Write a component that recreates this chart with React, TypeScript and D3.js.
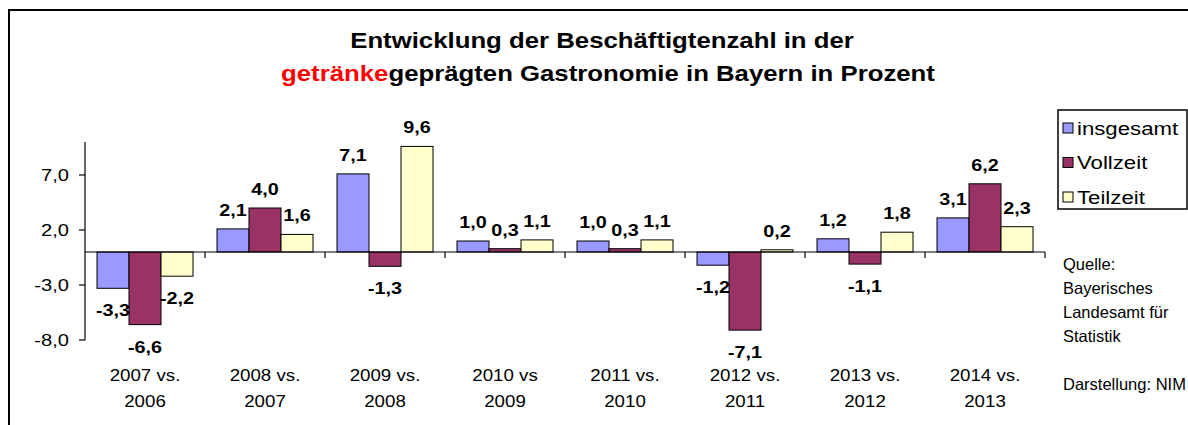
import React from 'react';
import * as d3 from 'd3';

const years1 = ['2007 vs.', '2008 vs.', '2009 vs.', '2010 vs', '2011 vs.', '2012 vs.', '2013 vs.', '2014 vs.'];
const years2 = ['2006', '2007', '2008', '2009', '2010', '2011', '2012', '2013'];
const seriesNames = ['insgesamt', 'Vollzeit', 'Teilzeit'];
const insgesamt = [-3.3, 2.1, 7.1, 1.0, 1.0, -1.2, 1.2, 3.1];
const vollzeit = [-6.6, 4.0, -1.3, 0.3, 0.3, -7.1, -1.1, 6.2];
const teilzeit = [-2.2, 1.6, 9.6, 1.1, 1.1, 0.2, 1.8, 2.3];
const yTicks = [-8, -3, 2, 7];
const sourceLines = ['Quelle:', 'Bayerisches', 'Landesamt für', 'Statistik', '', 'Darstellung: NIM'];

const colors = ['#9999FF', '#993366', '#FFFFCC'];
const FONT = 'Arial, "Liberation Sans", sans-serif';
const fmt = (v: number) => v.toFixed(1).replace('.', ',');

// stretched text, the original glyphs are wider than arial
function T(props: { x: number; y: number; sx?: number; size: number; bold?: boolean; anchor?: string; children: any; fill?: string }) {
  const { x, y, sx = 1, size, bold, anchor = 'start', children, fill = '#000' } = props;
  return (
    <text
      transform={`translate(${x},${y}) scale(${sx},1)`}
      fontFamily={FONT}
      fontSize={size}
      fontWeight={bold ? 'bold' : 'normal'}
      textAnchor={anchor}
      fill={fill}
    >
      {children}
    </text>
  );
}

export default function App() {
  const data = [insgesamt, vollzeit, teilzeit];
  const x0 = d3.scaleBand<number>().domain(d3.range(years1.length)).range([85, 1045]);
  const x1 = d3.scaleBand<number>().domain([0, 1, 2]).range([12, 108]);
  const y = d3.scaleLinear().domain([-8, 10]).range([340, 142]);
  const zero = y(0);

  return (
    <svg
      width={1188}
      height={425}
      viewBox="0 0 1188 425"
      style={{ position: 'fixed', left: 0, top: 0, background: '#fff' }}
    >
      <rect x={0} y={0} width={1188} height={425} fill="#fff" />
      <rect x={9} y={10} width={1250} height={500} fill="none" stroke="#000" strokeWidth={2} />

      {/* title */}
      <T x={602} y={48} size={23} sx={1.12} bold anchor="middle">
        Entwicklung der Beschäftigtenzahl in der
      </T>
      <text
        transform={`translate(608,81) scale(1.12,1)`}
        fontFamily={FONT}
        fontSize={23}
        fontWeight="bold"
        textAnchor="middle"
      >
        <tspan fill="#FF0000">getränke</tspan>
        <tspan fill="#000">geprägten Gastronomie in Bayern in Prozent</tspan>
      </text>

      {/* bars */}
      {data.map((vals, s) =>
        vals.map((v, i) => {
          const bx = (x0(i) as number) + (x1(s) as number);
          return (
            <rect
              key={`b${s}-${i}`}
              x={bx}
              y={Math.min(y(v), zero)}
              width={x1.bandwidth()}
              height={Math.abs(y(v) - zero)}
              fill={colors[s]}
              stroke="#000"
              strokeWidth={1}
            />
          );
        })
      )}

      {/* y axis */}
      <line x1={85} x2={85} y1={y(10)} y2={y(-8)} stroke="#000" strokeWidth={1.2} />
      {yTicks.map(t => (
        <g key={`yt${t}`}>
          <line x1={79} x2={85} y1={y(t)} y2={y(t)} stroke="#000" strokeWidth={1.2} />
          <T x={69} y={y(t) + 6} size={16.5} sx={1.22} anchor="end">
            {fmt(t)}
          </T>
        </g>
      ))}

      {/* zero axis with category ticks */}
      <line x1={85} x2={1045} y1={zero} y2={zero} stroke="#000" strokeWidth={1.2} />
      {years1.map((_, i) => (
        <line
          key={`ct${i}`}
          x1={(x0(i) as number) + x0.bandwidth()}
          x2={(x0(i) as number) + x0.bandwidth()}
          y1={zero}
          y2={zero + 6}
          stroke="#000"
          strokeWidth={1.2}
        />
      ))}

      {/* category labels */}
      {years1.map((l, i) => {
        const cx = (x0(i) as number) + x0.bandwidth() / 2;
        return (
          <g key={`cl${i}`}>
            <T x={cx} y={381} size={17} sx={1.1} anchor="middle">{l}</T>
            <T x={cx} y={407} size={17} sx={1.1} anchor="middle">{years2[i]}</T>
          </g>
        );
      })}

      {/* value labels */}
      {data.map((vals, s) =>
        vals.map((v, i) => {
          const cx = (x0(i) as number) + (x1(s) as number) + x1.bandwidth() / 2;
          const ly = v >= 0 ? y(v) - 13 : y(v) + 28;
          return (
            <T key={`l${s}-${i}`} x={cx} y={ly} size={16.5} sx={1.2} bold anchor="middle">
              {fmt(v)}
            </T>
          );
        })
      )}

      {/* legend */}
      <rect x={1058} y={110} width={129} height={99} fill="#fff" stroke="#000" strokeWidth={1.5} />
      {seriesNames.map((n, s) => (
        <g key={`lg${s}`}>
          <rect x={1063} y={123 + s * 34.5} width={10} height={10} fill={colors[s]} stroke="#000" strokeWidth={1} />
          <T x={1077} y={134.5 + s * 34.5} size={18.5} sx={1.2}>{n}</T>
        </g>
      ))}

      {/* source note */}
      {sourceLines.map((l, i) => (
        <T key={`src${i}`} x={1063} y={270 + i * 24} size={16.5}>{l}</T>
      ))}
    </svg>
  );
}
